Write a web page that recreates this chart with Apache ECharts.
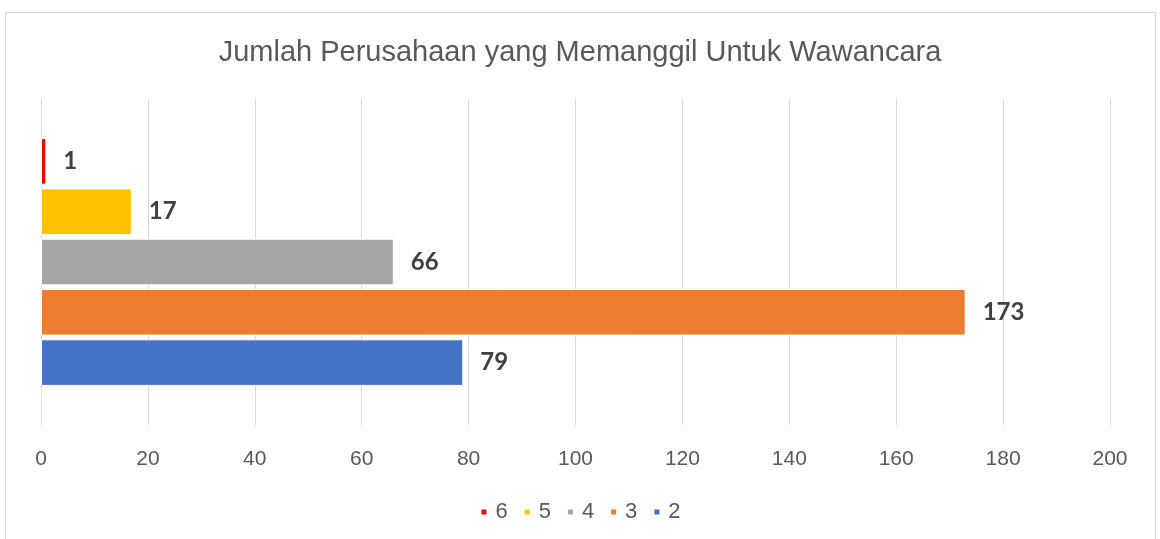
<!DOCTYPE html>
<html>
<head>
<meta charset="utf-8">
<script src="https://cdn.jsdelivr.net/npm/echarts@6/dist/echarts.min.js"></script>
<style>
  html, body { margin: 0; padding: 0; background: #fff; }
  #chart { width: 1160px; height: 539px; }
</style>
</head>
<body>
<div id="chart"></div>
<script>
// data, first series is drawn at the top
var categories = ['Jumlah'];
var seriesNames = ['6', '5', '4', '3', '2'];
var seriesValues = [1, 17, 66, 173, 79];
var seriesColors = ['#FF0000', '#FFC000', '#A5A5A5', '#ED7D31', '#4472C4'];
var legendOrder = ['6', '5', '4', '3', '2'];
var axisMin = 0, axisMax = 200, axisStep = 20;

init();

function init(){
    var myChart = echarts.init(document.getElementById('chart'));

    var series = [];
    for(var i = 0;i<seriesNames.length;i++){
        series.push({
            name: seriesNames[i],
            type: 'bar',
            barGap: '8%',
            barCategoryGap: '24%',
            itemStyle: {
                color: seriesColors[i],
                borderColor: '#fff',
                borderWidth: 1
            },
            label: {
                show: true,
                position: 'right',
                distance: 17,
                fontFamily: 'Lato',
                fontWeight: 'bold',
                fontSize: 24,
                color: '#404040'
            },
            data: [seriesValues[i]]
        });
    }

    var option = {
        animation: false,
        title: {
            text: 'Jumlah Perusahaan yang Memanggil Untuk Wawancara',
            left: 'center',
            top: 33,
            textStyle: {
                fontFamily: 'Liberation Sans',
                fontWeight: 'normal',
                fontSize: 29,
                color: '#595959'
            }
        },
        legend: {
            data: legendOrder,
            bottom: 11,
            left: 'center',
            icon: 'rect',
            itemWidth: 7,
            itemHeight: 7,
            itemGap: 15,
            textStyle: {
                fontFamily: 'Liberation Sans',
                fontSize: 22,
                color: '#595959',
                padding: [0, 0, 0, 3]
            }
        },
        grid: {
            left: 41,
            right: 50,
            top: 99,
            bottom: 114
        },
        xAxis: {
            type: 'value',
            min: axisMin,
            max: axisMax,
            interval: axisStep,
            axisLine: { show: false },
            axisTick: { show: false },
            axisLabel: {
                margin: 24,
                fontFamily: 'Liberation Sans',
                fontSize: 21,
                color: '#595959'
            },
            splitLine: {
                lineStyle: { color: '#d9d9d9', width: 1 }
            }
        },
        yAxis: {
            type: 'category',
            data: categories,
            axisLine: { show: false },
            axisTick: { show: false },
            axisLabel: { show: false }
        },
        graphic: [{
            type: 'rect',
            shape: { x: 5.5, y: 12.5, width: 1150, height: 540 },
            style: { fill: 'none', stroke: '#d9d9d9', lineWidth: 1 },
            silent: true
        }],
        series: series
    };

    myChart.setOption(option);
}
</script>
</body>
</html>
